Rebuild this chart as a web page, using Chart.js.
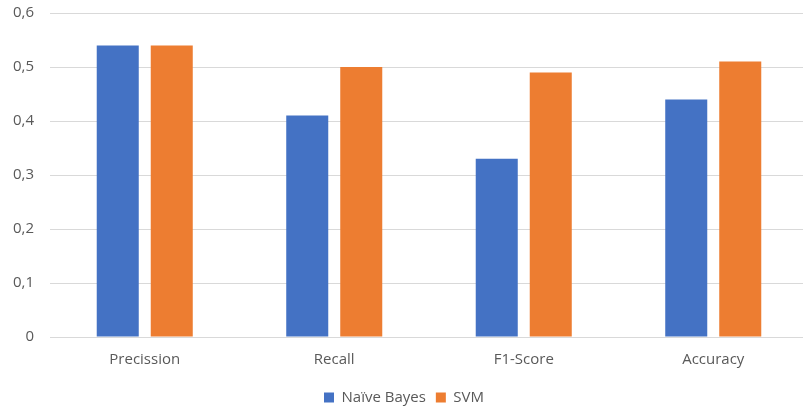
<!DOCTYPE html>
<html>
<head>
<meta charset="utf-8">
<script src="https://cdn.jsdelivr.net/npm/chart.js@4.4.0/dist/chart.umd.min.js"></script>
<style>
  html, body { margin: 0; padding: 0; background: #fff; overflow: hidden; }
  #wrap { width: 808px; height: 413px; position: relative; }
</style>
</head>
<body>
<div id="wrap"><canvas id="barChart"></canvas></div>
<script>
const categories = ['Precission', 'Recall', 'F1-Score', 'Accuracy'];
const naiveBayes = [0.54, 0.41, 0.33, 0.44];
const svm = [0.54, 0.50, 0.49, 0.51];

Chart.defaults.font.family = '"Open Sans", "Noto Sans", sans-serif';
Chart.defaults.font.size = 15;
Chart.defaults.color = '#595959';

const CHART = document.getElementById('barChart');
let bar_Chart = new Chart(CHART, {
    type: 'bar',
    data: {
        labels: categories,
        datasets: [{
            label: 'Naïve Bayes',
            data: naiveBayes,
            backgroundColor: '#4472C4'
        }, {
            label: 'SVM',
            data: svm,
            backgroundColor: '#ED7D31'
        }]
    },
    options: {
        responsive: true,
        maintainAspectRatio: false,
        animation: false,
        categoryPercentage: 0.57,
        barPercentage: 0.778,
        layout: { padding: { top: 13, right: 0, left: 0, bottom: -2 } },
        plugins: {
            legend: {
                position: 'bottom',
                labels: { boxWidth: 10, boxHeight: 10, padding: 10, font: { size: 15 } }
            },
            tooltip: { enabled: false }
        },
        scales: {
            x: {
                grid: { display: false },
                border: { display: false },
                ticks: { padding: 6 },
                afterFit: (axis) => { axis.height = 43; }
            },
            y: {
                min: 0,
                max: 0.6,
                ticks: {
                    stepSize: 0.1,
                    padding: 16,
                    callback: (v) => v === 0 ? '0' : v.toFixed(1).replace('.', ',')
                },
                grid: { color: '#D9D9D9', lineWidth: 1, drawTicks: false },
                border: { display: false },
                afterFit: (axis) => {
                    axis.width = 50;
                    axis.paddingTop = 0;
                    axis.paddingBottom = 0;
                }
            }
        }
    }
});
</script>
</body>
</html>
